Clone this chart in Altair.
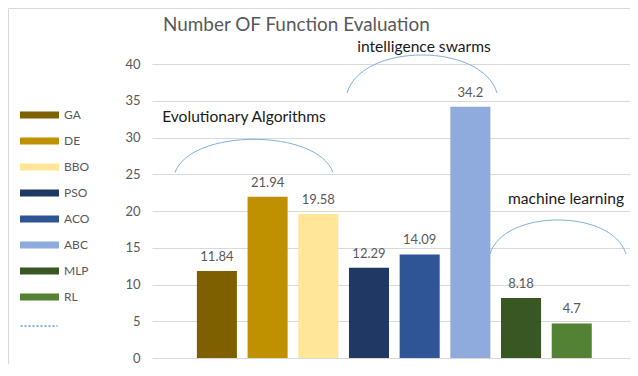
import altair as alt
import pandas as pd

algs = ["GA", "DE", "BBO", "PSO", "ACO", "ABC", "MLP", "RL"]
values = [11.84, 21.94, 19.58, 12.29, 14.09, 34.2, 8.18, 4.7]
colors = ["#7f6000", "#bf9000", "#ffe699", "#203864", "#2f5597", "#8faadc", "#385723", "#548235"]
y_ticks = [0, 5, 10, 15, 20, 25, 30, 35, 40]
title_text = "Number OF Function Evaluation"
groups = ["Evolutionary Algorithms", "intelligence swarms", "machine learning"]

FONT = "Lato"
GRAY = "#595959"

df = pd.DataFrame({"alg": algs, "value": values})
one = pd.DataFrame({"k": [0]})

xenc = alt.X("alg:N", sort=algs, axis=None,
             scale=alt.Scale(paddingInner=0.21, paddingOuter=0.82, align=0.54))
yaxis = alt.Axis(values=y_ticks, title=None, grid=True, gridColor="#d9d9d9",
                 domain=False, ticks=False, labelPadding=12, labelOverlap=False,
                 labelColor=GRAY, labelFontSize=13, labelFont=FONT)
yenc = alt.Y("value:Q", scale=alt.Scale(domain=[0, 40], nice=False), axis=yaxis)

bars = alt.Chart(df).mark_bar().encode(
    x=xenc, y=yenc,
    color=alt.Color("alg:N", sort=algs,
                    scale=alt.Scale(domain=algs, range=colors),
                    legend=alt.Legend(orient="none", legendX=-118.5, legendY=45,
                                      title=None, symbolType="M-3.9,-0.7H3.9V0.7H-3.9Z",
                                      symbolSize=100, symbolStrokeWidth=0, symbolOpacity=1,
                                      labelOffset=18.5, rowPadding=14, padding=0,
                                      labelFont=FONT, labelFontSize=12, labelColor=GRAY)),
)

labels = alt.Chart(df).mark_text(baseline="bottom", dy=-7, font=FONT, fontSize=13, color=GRAY).encode(
    x=xenc, y=yenc, text=alt.Text("value:Q")
)

dot = alt.Chart(pd.DataFrame({"alg": ["GA"], "value": [0], "s": ["dot"]})).mark_line(
    color="#5b9bd5", strokeWidth=1.5, opacity=1
).encode(
    x=xenc, y=yenc,
    strokeDash=alt.StrokeDash("s:N", scale=alt.Scale(domain=["dot"], range=[[2, 2]]),
                              legend=alt.Legend(orient="none", legendX=-132.5, legendY=242.5,
                                                title=None, symbolType="stroke", symbolSize=1369,
                                                symbolStrokeColor="#5b9bd5", symbolStrokeWidth=1.5,
                                                labelExpr="''", padding=0)),
)


def arc(px, py, half, ratio, text, tx, ty):
    c = round(ratio / 0.75, 3)
    path = f"M-1,0C-0.8,{-c} 0.8,{-c} 1,0"
    a = alt.Chart(one).mark_point(shape=path, filled=False, stroke="#7fb0e0",
                                  strokeWidth=1, size=(2 * half) ** 2, opacity=1).encode(
        x=alt.value(px), y=alt.value(py))
    t = alt.Chart(one).mark_text(text=text, font=FONT, fontSize=15.6, color="#1a1a1a",
                                 align="center", baseline="middle").encode(
        x=alt.value(tx), y=alt.value(ty))
    return a + t


arcs = (arc(102, 108.5, 79, 0.42, groups[0], 92, 53)
        + arc(270, 29, 75, 0.507, groups[1], 272, -17)
        + arc(406, 190, 68, 0.5, groups[2], 414, 135))

title = alt.Chart(one).mark_text(text=title_text, font=FONT, fontSize=18.9, color=GRAY,
                                 align="left", baseline="middle").encode(
    x=alt.value(11), y=alt.value(-39))

border = alt.Chart(one).mark_rect(fill=None, stroke="#d9d9d9", strokeWidth=1).encode(
    x=alt.value(-143.5), x2=alt.value(700), y=alt.value(-55.5), y2=alt.value(600))

chart = alt.layer(border, bars, labels, dot, arcs, title).properties(
    width=478, height=294,
    autosize=alt.AutoSizeParams(type="none"),
    padding={"left": 144, "top": 56, "right": 0, "bottom": 6},
).configure_view(stroke=None).resolve_scale(color="independent")

chart.save("out.html", embed_options={"renderer": "svg", "actions": False})
